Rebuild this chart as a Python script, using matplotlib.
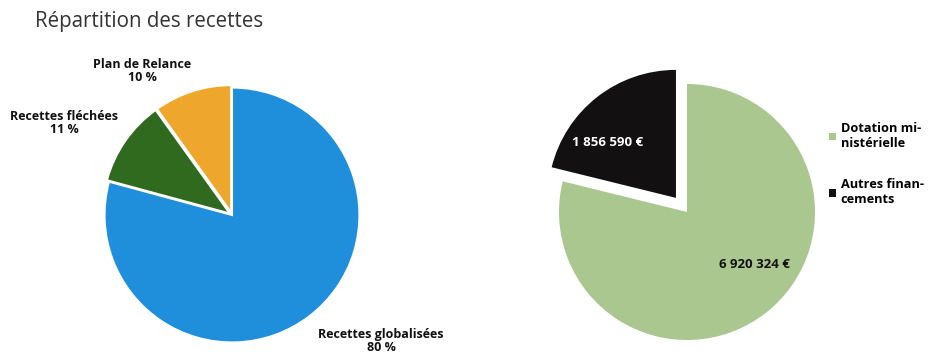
import matplotlib
matplotlib.use("Agg")
import matplotlib.pyplot as plt
from matplotlib.patches import Patch

plt.rcParams['font.family'] = ['Open Sans', 'DejaVu Sans']

# Left pie data
left_labels = ["Recettes globalisées", "Recettes fléchées", "Plan de Relance"]
left_pcts = [80, 11, 10]
left_colors = ["#1F8FDB", "#2F6A1F", "#EFA62C"]

# Right pie data
right_labels = ["Dotation mi-\nnistérielle", "Autres finan-\ncements"]
right_values = [6920324, 1856590]
right_texts = ["6 920 324 €", "1 856 590 €"]
right_colors = ["#A9C78F", "#121010"]

W, H = 929, 358
fig = plt.figure(figsize=(W / 100, H / 100), dpi=100)
fig.patch.set_facecolor("white")

def fx(x): return x / W
def fy(y): return 1 - y / H

fig.text(fx(35), fy(22), "Répartition des recettes", fontsize=14.8, color="#333333",
         ha="left", va="center")

# Left pie
axL = fig.add_axes([fx(102), fy(345), 260 / W, 260 / H])
axL.pie(left_pcts, colors=left_colors, startangle=90, counterclock=False,
        radius=1, explode=[0, 0.02, 0.02],
        wedgeprops=dict(edgecolor="white", linewidth=1.5))
axL.set_xlim(-1.02, 1.02)
axL.set_ylim(-1.02, 1.02)
axL.set_aspect("equal")
axL.axis("off")

lbl_pos = {0: (381, 341), 1: (64, 123), 2: (142, 71)}
for i, (lab, p) in enumerate(zip(left_labels, left_pcts)):
    x, y = lbl_pos[i]
    fig.text(fx(x), fy(y), f"{lab}\n{p} %", fontsize=9, fontweight="bold",
             ha="center", va="center", linespacing=0.95, color="#111111")

# Right pie
axR = fig.add_axes([fx(559), fy(340), 256 / W, 256 / H])
wedges, _ = axR.pie(right_values, colors=right_colors, startangle=90, counterclock=False,
                    radius=1, explode=[0, 0.14])
axR.set_xlim(-1.0, 1.0)
axR.set_ylim(-1.0, 1.0)
axR.set_aspect("equal")
axR.axis("off")

fig.text(fx(608), fy(142), right_texts[1], fontsize=9.5, fontweight="bold",
         color="white", ha="center", va="center")
fig.text(fx(754), fy(264), right_texts[0], fontsize=9.5, fontweight="bold",
         color="#111111", ha="center", va="center")

handles = [Patch(facecolor=c, edgecolor="none") for c in right_colors]
fig.legend(handles, right_labels, loc="upper left", bbox_to_anchor=(fx(824), fy(117)),
           frameon=False, prop=dict(size=9.2, weight="bold"), handlelength=0.55,
           handleheight=0.55, handletextpad=0.35, labelspacing=2.2, borderaxespad=0)

fig.savefig("out.png", dpi=100, facecolor="white")
